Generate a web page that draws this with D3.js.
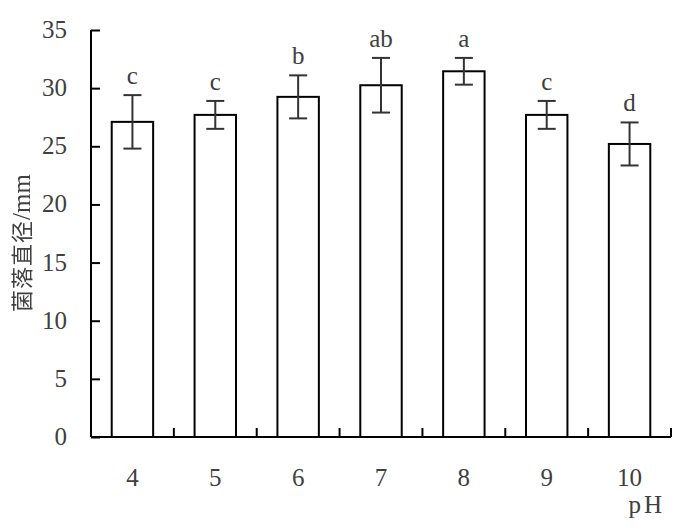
<!DOCTYPE html>
<html><head><meta charset="utf-8">
<script src="https://cdn.jsdelivr.net/npm/d3@7"></script>
<style>body{margin:0;background:#fff} text{font-family:"Liberation Serif","Times New Roman",Tinos,serif}</style>
</head><body>
<svg id="c" width="692" height="527"></svg>
<script>
const categories = ["4","5","6","7","8","9","10"];
const means = [27.1, 27.7, 29.25, 30.25, 31.45, 27.7, 25.2];
const errors = [2.3, 1.2, 1.85, 2.35, 1.15, 1.2, 1.85];
const letters = ["c","c","b","ab","a","c","d"];
const yTicks = [0,5,10,15,20,25,30,35];
const yTitleCJK = "菌落直径";
const yTitleUnit = "/mm";
const xTitle = "pH";

const svg = d3.select("#c");
const L = 91, R = 671, T = 30, B = 437;
const x = d3.scaleBand().domain(categories).range([L, R]).paddingInner(0).paddingOuter(0);
const y = d3.scaleLinear().domain([0, 35]).range([B, T]);
const txt = "#404040";

// bars
const bw = x.bandwidth() * 0.5;
svg.selectAll("rect.bar").data(means).enter().append("rect")
  .attr("x", (d,i) => x(categories[i]) + (x.bandwidth()-bw)/2)
  .attr("y", d => y(d))
  .attr("width", bw).attr("height", d => B - y(d))
  .attr("fill", "#fff").attr("stroke", "#000").attr("stroke-width", 2);

// error bars
const cap = 9;
const eg = svg.append("g").attr("stroke", "#333").attr("stroke-width", 2);
means.forEach((m,i) => {
  const cx = x(categories[i]) + x.bandwidth()/2;
  eg.append("line").attr("x1",cx).attr("x2",cx).attr("y1",y(m+errors[i])).attr("y2",y(m-errors[i]));
  eg.append("line").attr("x1",cx-cap).attr("x2",cx+cap).attr("y1",y(m+errors[i])).attr("y2",y(m+errors[i]));
  eg.append("line").attr("x1",cx-cap).attr("x2",cx+cap).attr("y1",y(m-errors[i])).attr("y2",y(m-errors[i]));
});

// letters
svg.selectAll("text.lt").data(letters).enter().append("text")
  .attr("x", (d,i) => x(categories[i]) + x.bandwidth()/2)
  .attr("y", (d,i) => y(means[i]+errors[i]) - 11)
  .attr("text-anchor","middle").style("font-size","25px").attr("fill",txt)
  .text(d => d);

// y axis
const yAxis = d3.axisRight(y).tickValues(yTicks).tickSize(9).tickFormat("");
const ya = svg.append("g").attr("transform",`translate(${L},0)`).call(yAxis);
ya.select(".domain").attr("stroke","#000").attr("stroke-width",2).attr("d",`M0,${T}V${B}`);
ya.selectAll(".tick line").attr("stroke","#000").attr("stroke-width",2);
svg.selectAll("text.yl").data(yTicks).enter().append("text")
  .attr("x", 67).attr("y", d => y(d) + 8)
  .attr("text-anchor","end").style("font-size","25px").attr("fill",txt)
  .text(d => d);

// x axis
const bounds = categories.map(c => x(c)).concat([R]);
const xa = svg.append("g");
xa.append("line").attr("x1",L).attr("x2",R).attr("y1",B).attr("y2",B).attr("stroke","#000").attr("stroke-width",2);
xa.selectAll("line.t").data(bounds.slice(1)).enter().append("line")
  .attr("x1",d=>d).attr("x2",d=>d).attr("y1",B).attr("y2",B-9).attr("stroke","#000").attr("stroke-width",2);
svg.selectAll("text.xl").data(categories).enter().append("text")
  .attr("x", d => x(d) + x.bandwidth()/2).attr("y", 486)
  .attr("text-anchor","middle").style("font-size","25px").attr("fill",txt)
  .text(d => d);

// titles
svg.append("text").attr("x", 665).attr("y", 513).attr("text-anchor","end")
  .style("font-size","25px").attr("fill",txt).attr("letter-spacing",3).text(xTitle);
const yt = svg.append("text").attr("transform","translate(30,243) rotate(-90)").attr("text-anchor","middle")
  .attr("fill",txt).style("filter","grayscale(100%)");
yt.append("tspan").style("font-family","'Noto Sans CJK SC',sans-serif").style("font-size","22px")
  .attr("letter-spacing",1).text(yTitleCJK);
yt.append("tspan").style("font-size","25px").text(yTitleUnit);
</script>
</body></html>
